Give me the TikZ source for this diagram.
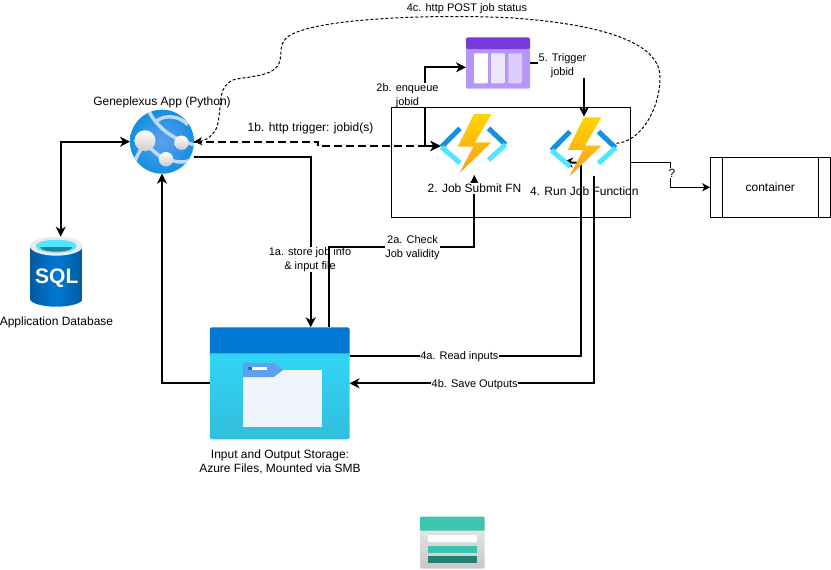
\documentclass[tikz,border=0pt]{standalone}
\usepackage{fontspec}
\setmainfont{Liberation Sans}
\usetikzlibrary{arrows.meta}
\definecolor{azuredark}{HTML}{0078D4}
\definecolor{azurecyan}{HTML}{32D4F5}
\definecolor{azureteal}{HTML}{32BEDD}
\definecolor{azurefolder}{HTML}{F0F5FB}
\definecolor{azuretab}{HTML}{5EA0EF}
\definecolor{queuedark}{HTML}{773ADC}
\definecolor{queuelight}{HTML}{B796F9}
\definecolor{bolttop}{HTML}{FED500}
\definecolor{boltlow}{HTML}{F99F1E}
\definecolor{bracketdark}{HTML}{1490DF}
\definecolor{bracketlight}{HTML}{50E6FF}
\definecolor{tabteal}{HTML}{3CC4B0}
\definecolor{tabdark}{HTML}{277D70}
\definecolor{sqlblue}{HTML}{005BA1}
\tikzset{
  flow/.style={line width=2pt},
  thinflow/.style={line width=1pt,>={Stealth[length=8pt,width=8pt,inset=2pt]}},
  slot/.style={minimum width=#1,inner sep=0pt,outer sep=0pt},
  flowlabel/.style={font=\fontsize{11}{14}\selectfont,align=center,inner sep=0.5pt,fill=white},
  iconlabel/.style={font=\fontsize{12}{14}\selectfont,align=center,inner sep=0pt},
  fnicon/.pic={
    \draw[bracketdark,line width=5pt] (-13.5,-15.7) -- (-32,3);
    \draw[bracketlight,line width=5pt] (-32,3) -- (-13.5,19);
    \draw[bracketdark,line width=5pt] (15,-15.7) -- (32,0.5);
    \draw[bracketlight,line width=5pt] (32,0.5) -- (15,16);
    \shade[top color=bolttop,bottom color=boltlow]
      (0.5,-30) -- (18,-30) -- (1.5,-1.7) -- (18,-1.7) -- (-14.2,29.3)
      -- (-0.2,2.7) -- (-15.8,2.7) -- cycle;
  },
  webicon/.pic={
    \shade[inner color=azuretab,outer color=bracketdark] (0,0) circle(32);
    \begin{scope}
      \clip (0,0) circle(32);
      \draw[white!60!azuretab,line width=3.5pt] (-13,-30) .. controls (-3,-12) and (12,-2) .. (32,3);
      \draw[white!60!azuretab,line width=3.5pt] (-5,-21) .. controls (5,-28) and (18,-25) .. (26,-17);
      \draw[white!60!azuretab,line width=3.5pt] (-20,6) .. controls (-25,14) and (-28,20) .. (-29,26);
      \draw[white!60!azuretab,line width=3.5pt] (-14,4) .. controls (-8,10) and (-3,14) .. (2,18);
      \draw[white!60!azuretab,line width=3.5pt] (8,18) .. controls (18,22) and (26,20) .. (32,17);
    \end{scope}
    \foreach \bx/\by/\br in {-17/-1/10.5,19.5/1/7.2,4/17.5/7.2} {
      \shade[top color=white,bottom color=black!20] (\bx,\by) circle(\br);
    }
  },
  sqlicon/.pic={
    \shade[left color=sqlblue,right color=sqlblue,middle color=azuredark]
      (-26.3,-25.5) -- (-26.3,27) arc(180:0:26.3 and 8) -- (26.3,-25.5) -- cycle;
    \fill[black!8] (0,-25.5) ellipse(26.3 and 9.5);
    \fill[bracketlight] (0,-25.5) ellipse(20.5 and 6.5);
    \fill[azureteal!70!black] (-16,-24.5) arc(180:0:16 and 4.5) -- cycle;
  },
}
\begin{document}
\begin{tikzpicture}[x=1pt,y=-1pt,>={Stealth[length=10pt,width=10pt,inset=3pt]}]
  \useasboundingbox (0,0) rectangle (831,570);
  % icon places
  \node[slot=64pt,minimum height=64pt] (webapp) at (162,141.7) {};
  \node[slot=52.6pt,minimum height=70pt] (sqldb) at (56.3,271.7) {};
  \node[slot=139.6pt,minimum height=112pt] (storage) at (279.7,383.3) {};
  \node[slot=64pt,minimum height=51.4pt] (queue) at (498,63) {};
  \node[slot=66pt,minimum height=58pt] (fnsubmit) at (473.5,144) {};
  \node[slot=66pt,minimum height=58pt] (fnrun) at (583.5,147.3) {};
  \node[draw,slot=120pt,minimum height=60pt,iconlabel] (container) at (770.3,187.3) {container};
  \draw ([xshift=12pt]container.north west) -- ([xshift=12pt]container.south west);
  \draw ([xshift=-12pt]container.north east) -- ([xshift=-12pt]container.south east);
  \coordinate (readbend) at (580.7,163);
  \coordinate (readend) at (563,162);
  % connectors
  \draw[flow,<->] (webapp.west) -| ([xshift=4.4pt]sqldb.north);
  \draw[flow,->] (storage.west) -| (webapp.south);
  \draw[flow,->] ([yshift=-15.5pt]webapp.east) -| ([xshift=31pt]storage.north);
  \node[flowlabel] (storelabel) at (310,259.5) {1a. store job info\\\& input file};
  \draw[flow,->,dash pattern=on 8pt off 4pt] (webapp.east) -- ++(124,0) -- ++(0,4.3) -- ([yshift=-2pt]fnsubmit.west);
  \draw[flow,<->] ([yshift=-2pt]fnsubmit.west) -- ++(-16,0) |- ([yshift=-4.3pt]queue.west);
  \node[flowlabel] (enqueuelabel) at (407.5,95.5) {2b. enqueue\\jobid};
  \node[draw,slot=239.6pt,minimum height=110pt] (fnbox) at (510.5,162.3) {};
  \draw[flow,->] ([xshift=49pt]storage.north) |- (400,247.3) -| ([xshift=0.8pt,yshift=-2pt]fnsubmit.south);
  \node[flowlabel] (checklabel) at (412.5,247.5) {2a. Check\\Job validity};
  \draw[flow,->] (queue.east) -| ([xshift=0.5pt,yshift=1.6pt]fnrun.north);
  \node[flowlabel] (triggerlabel) at (562.5,65.5) {5. Trigger\\jobid};
  \draw[flow] ([yshift=27.3pt]storage.east) -| (readbend);
  \draw[flow,->] (readbend) -- (readend);
  \draw[flow,->] ([xshift=10.5pt]fnrun.south) |- (storage.east);
  \node[flowlabel] (readlabel) at (459.3,356.5) {4a. Read inputs};
  \node[flowlabel] (savelabel) at (474.7,384.5) {4b. Save Outputs};
  \draw[thinflow,->] (fnbox.east) -- ++(40,0) |- (container.west);
  \node[flowlabel,font=\fontsize{12}{14}\selectfont,inner sep=1pt] (unknownlabel) at (672,173) {?};
  \draw[thinflow,->,dash pattern=on 3pt off 2pt] ([yshift=4pt]fnrun.east)
    .. controls (640,142) and (660,110) .. (660,77)
    .. controls (660,45) and (610,25) .. (513,18)
    .. controls (440,14) and (340,18) .. (303,30)
    .. controls (275,38) and (283,50) .. (280,60)
    .. controls (277,78) and (245,76) .. (233,80)
    .. controls (218,87) and (222,100) .. (218,123)
    .. controls (216,135) and (205,141) .. (webapp.east);
  % icons
  \path (webapp.center) pic {webicon};
  \path (sqldb.center) pic {sqlicon};
  \node[text=white,inner sep=0pt,font=\fontsize{21}{21}\selectfont\bfseries] (sqltext) at (56.8,278.5) {SQL};
  \path (fnsubmit.center) pic {fnicon};
  \path (fnrun.center) pic {fnicon};
  \fill[azuredark,rounded corners=2pt] (storage.north west) rectangle ([yshift=-30pt]storage.north east);
  \shade[top color=azurecyan,bottom color=azureteal]
    ([yshift=-26pt]storage.north west) -- ([yshift=-26pt]storage.north east)
    {[rounded corners=2pt] -- (storage.south east) -- (storage.south west)} -- cycle;
  \fill[azurefolder] (243,370) rectangle (322,427);
  \fill[azuretab] (243,363) -- (274,363) -- (283,370) -- (274,377) -- (243,377) -- cycle;
  \fill[white] (252,366.5) rectangle (267,369.5);
  \fill[azuredark] (248,366.5) rectangle (252,369.5);
  \fill[queuelight,rounded corners=2pt] (466,40) rectangle (530,88.7);
  \fill[queuedark,rounded corners=2pt] (466,37.3) rectangle (530,49);
  \foreach \cx/\cc in {474/white,491/queuelight!25,508.3/queuelight!50} {
    \fill[\cc,rounded corners=1pt] (\cx,53.3) rectangle ++(13.8,30);
  }
  \shade[top color=black!8,bottom color=black!22,rounded corners=2pt] (420,520) rectangle (484.7,568.7);
  \fill[tabteal,rounded corners=1pt] (420,516.7) rectangle (484.7,530.7);
  \fill[white] (428,535) rectangle (477,542);
  \fill[tabteal] (428,545.5) rectangle (477,553);
  \fill[tabdark] (428,556) rectangle (477,563);
  % labels
  \node[iconlabel] (webtext) at (162,102) {Geneplexus App (Python)};
  \node[iconlabel] (sqlname) at (56.5,322) {Application Database};
  \node[iconlabel] (storagetext) at (280,461.5) {Input and Output Storage:\\Azure Files, Mounted via SMB};
  \node[iconlabel,fill=white,inner ysep=1pt] (submittext) at (474.5,188.5) {2. Job Submit FN};
  \node[iconlabel] (runtext) at (584.3,191.5) {4. Run Job Function};
  \node[iconlabel] (triggertext) at (310.5,128) {1b. http trigger: jobid(s)};
  \node[flowlabel,fill=none] (statustext) at (467,8.5) {4c. http POST job status};
\end{tikzpicture}
\end{document}
